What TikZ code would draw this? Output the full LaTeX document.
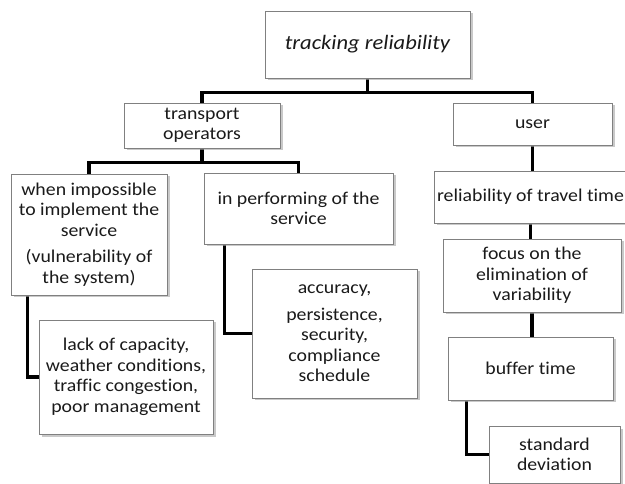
\documentclass[tikz,border=0pt]{standalone}
\usepackage{fontspec}
\setmainfont{Carlito}[FakeStretch=1.1,Ligatures=NoCommon]
\usetikzlibrary{shadows,calc,backgrounds}
\definecolor{boxline}{HTML}{808080}
\definecolor{txt}{HTML}{1A1A1A}
\tikzset{
  box/.style={draw=boxline, line width=0.8pt, fill=white, inner sep=0pt,
    align=center, text=txt,
    font=\fontsize{18}{20.5}\selectfont,
    drop shadow={shadow xshift=2.5pt, shadow yshift=-2.5pt, fill=black!35, opacity=0.6}},
  link/.style={line width=3.2pt, black}
}
\begin{document}
\begin{tikzpicture}[x=1pt,y=-1pt]
\useasboundingbox (0,0) rectangle (625,484);
\node[box, minimum width=205pt, minimum height=67pt, font=\fontsize{20.5}{24}\selectfont\itshape] (top) at (367.5,44.5) {tracking reliability};
\node[box, minimum width=156pt, minimum height=45pt] (trans) at (202,125.5) {transport\\operators};
\node[box, minimum width=159pt, minimum height=42pt] (user) at (532.5,124) {user};
\node[box, minimum width=156pt, minimum height=121pt] (when) at (89,234.5) {when impossible\\to implement the\\service\\[6pt](vulnerability of\\the system)};
\node[box, minimum width=189pt, minimum height=71pt] (perf) at (298.5,208.5) {in performing of the\\service};
\node[box, minimum width=193pt, minimum height=52pt] (rel) at (530.5,197) {reliability of travel time};
\node[box, minimum width=178pt, minimum height=73pt] (focus) at (532,275.5) {focus on the\\elimination of\\variability};
\node[box, minimum width=165pt, minimum height=63pt] (buffer) at (530.5,368.5) {buffer time};
\node[box, minimum width=131pt, minimum height=57pt] (sd) at (554.5,454.5) {standard\\deviation};
\node[box, minimum width=174pt, minimum height=114pt] (lack) at (126,377) {lack of capacity,\\weather conditions,\\traffic congestion,\\poor management};
\node[box, minimum width=165pt, minimum height=129pt] (acc) at (334.5,333.5) {accuracy,\\[6pt]persistence,\\security,\\compliance\\schedule};
\begin{scope}[on background layer]
\fill[white] (0,0) rectangle (625,484);
\coordinate (j1) at ($(top.south)+(0,14)$);
\draw[link] (top.south) -- (j1) -| (trans.north);
\draw[link] (j1) -| (user.north);
\coordinate (j2) at ($(trans.south)+(0,14)$);
\draw[link] (trans.south) -- (j2) -| (when.north);
\draw[link] (j2) -| (perf.north);
\draw[link] (user.south) -- (user.south |- rel.north);
\draw[link] (rel.south) -- (rel.south |- focus.north);
\draw[link] (focus.south) -- (focus.south |- buffer.north);
\draw[link] ([xshift=19pt]buffer.south west) |- (sd.west);
\draw[link] ([xshift=17pt]when.south west) |- (lack.west);
\draw[link] ([xshift=21pt]perf.south west) |- (acc.west);
\end{scope}
\end{tikzpicture}
\end{document}
